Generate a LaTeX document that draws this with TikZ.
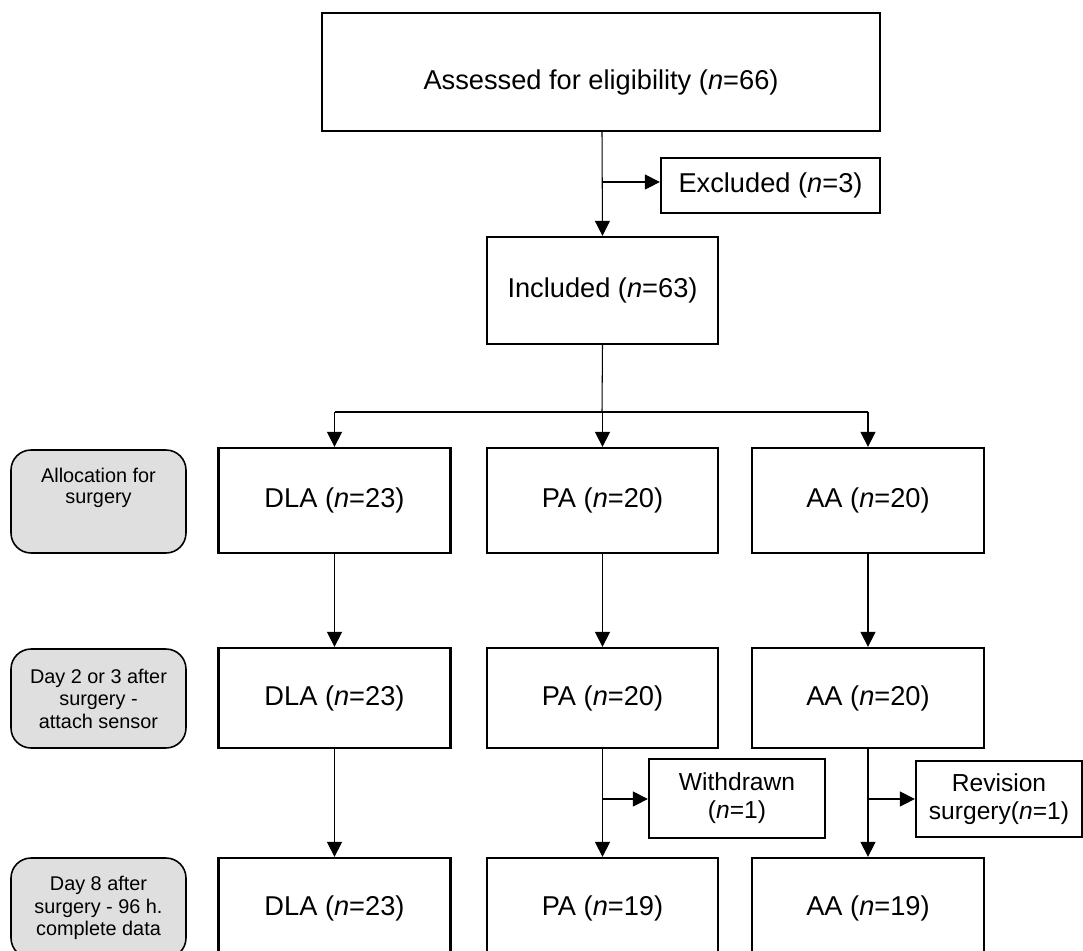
\documentclass[tikz,border=0pt]{standalone}
\usepackage{fontspec}
\setmainfont{Liberation Sans}
\usetikzlibrary{arrows.meta}

\begin{document}
\begin{tikzpicture}[x=0.02cm, y=-0.02cm,
    box/.style={draw, line width=1.3pt, align=center, inner sep=2pt, font=\fontsize{15.5}{18}\selectfont},
    smallbox/.style={box, font=\fontsize{14}{16}\selectfont},
    side/.style={draw, line width=0.9pt, rounded corners=0.4cm, fill=gray!25, align=center, minimum width=3.5cm, font=\fontsize{11.3}{12.8}\selectfont},
    arr/.style={-{Triangle[length=0.3cm, width=0.3cm]}, line width=0.6pt},
    line/.style={line width=0.6pt}]
			\useasboundingbox (0,0) rectangle (1083,951);
			
			% Screening
			\node[box, minimum width=11.16cm, minimum height=2.36cm, text height=0.8cm] (assess) at (601,72) {Assessed for eligibility (\textit{n}=66)};
			\node[box, minimum width=4.38cm, minimum height=1.1cm] (excl) at (770.5,185.5) {Excluded (\textit{n}=3)};
			\node[box, minimum width=4.62cm, minimum height=2.14cm] (incl) at (602.5,290.5) {Included (\textit{n}=63)};
			
			% Groups
			\node[box, minimum width=4.64cm, minimum height=2.1cm] (dlaA) at (334.5,500.5) {DLA (\textit{n}=23)};
			\node[box, minimum width=4.62cm, minimum height=2.1cm] (paA) at (602.5,500.5) {PA (\textit{n}=20)};
			\node[box, minimum width=4.64cm, minimum height=2.1cm] (aaA) at (868,500.5) {AA (\textit{n}=20)};
			
			\node[box, minimum width=4.64cm, minimum height=2cm] (dlaB) at (334.5,698) {DLA (\textit{n}=23)};
			\node[box, minimum width=4.62cm, minimum height=2cm] (paB) at (602.5,698) {PA (\textit{n}=20)};
			\node[box, minimum width=4.64cm, minimum height=2cm] (aaB) at (868,698) {AA (\textit{n}=20)};
			
			\node[box, minimum width=4.64cm, minimum height=2cm] (dlaC) at (334.5,908) {DLA (\textit{n}=23)};
			\node[box, minimum width=4.62cm, minimum height=2cm] (paC) at (602.5,908) {PA (\textit{n}=19)};
			\node[box, minimum width=4.64cm, minimum height=2cm] (aaC) at (868,908) {AA (\textit{n}=19)};
			
			\node[smallbox, minimum width=3.52cm, minimum height=1.58cm] (wdr) at (737,798.5) {Withdrawn\\(\textit{n}=1)};
			\node[smallbox, minimum width=3.32cm, minimum height=1.52cm] (rev) at (999,799) {Revision\\surgery(\textit{n}=1)};
			
			% Time points
			\node[side, minimum height=2.06cm, label={[anchor=north, align=center, font=\fontsize{11.3}{11.5}\selectfont, yshift=-0.26cm]north:Allocation for\\surgery}] (alloc) at (98.5,501.5) {};
			\node[side, minimum height=1.98cm] (attach) at (98.5,698.5) {Day 2 or 3 after\\surgery -\\attach sensor};
			\node[side, minimum height=2cm] (final) at (98.5,908) {Day 8 after\\surgery - 96 h.\\complete data};
			
			% Connectors
			\coordinate (b1) at (602,182);
			\coordinate (split) at (602,412);
			\coordinate (b2) at (602,799);
			\coordinate (b3) at (869,799);
			
			\draw[arr] (assess.south -| b1) -- (incl.north);
			\draw[arr] (b1) -- (b1 -| excl.west);
			\draw[line] (incl.south) -- (split);
			\draw[line] (split -| dlaA) -- (split -| aaA);
			\foreach \g in {dlaA,paA,aaA} {
				\draw[arr] (split -| \g) -- (\g.north);
			}
			\foreach \a/\b in {dlaA/dlaB, paA/paB, aaA/aaB, dlaB/dlaC, paB/paC, aaB/aaC} {
				\draw[arr] (\a) -- (\b);
			}
			\draw[arr] (b2) -- (b2 -| wdr.west);
			\draw[arr] (b3) -- (b3 -| rev.west);
			
		\end{tikzpicture}
\end{document}
